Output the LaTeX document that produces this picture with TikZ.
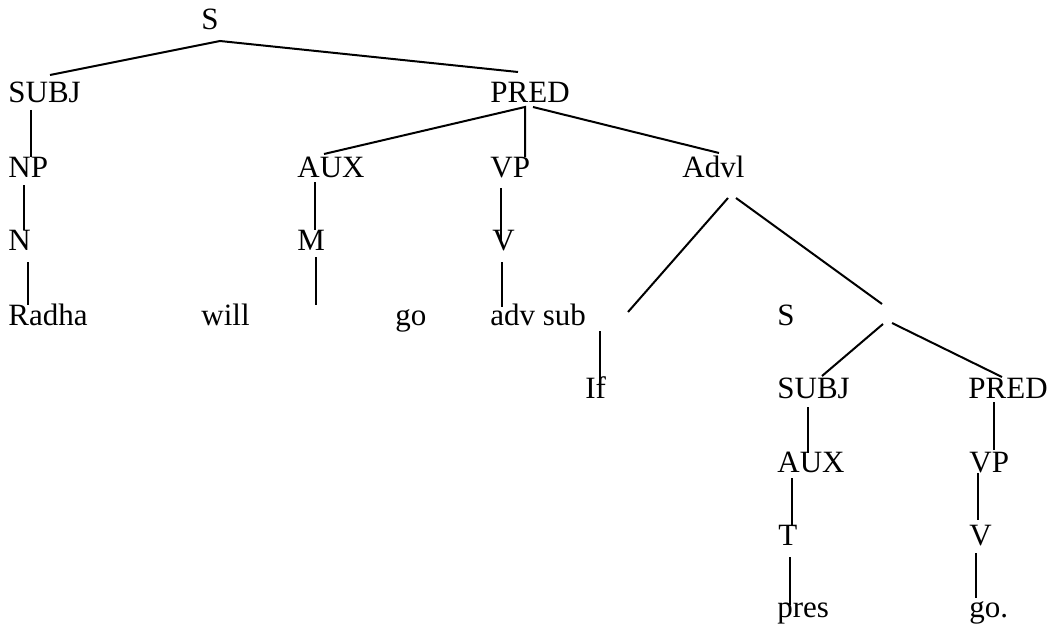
\documentclass[tikz,border=0pt]{standalone}
\usepackage{fontspec}
\setmainfont{Liberation Serif}
\begin{document}
\begin{tikzpicture}[x=0.5pt,y=-0.5pt,
  lbl/.style={inner sep=0pt,anchor=base west,font=\fontsize{15.5}{18}\selectfont},
  br/.style={line width=1pt,black}]
\useasboundingbox (0,0) rectangle (1055,631);
% row 1
\node[lbl] (s) at (201,30) {S};
% row 2
\node[lbl] (subj) at (8,103) {SUBJ};
\node[lbl] (pred) at (490,103) {PRED};
% row 3
\node[lbl] (np) at (8,177) {NP};
\node[lbl] (aux) at (297,177) {AUX};
\node[lbl] (vp) at (490,177) {VP};
\node[lbl] (advl) at (682,177) {Advl};
% row 4
\node[lbl] (n) at (8,250) {N};
\node[lbl] (m) at (297,250) {M};
\node[lbl] (v) at (492,250) {V};
% row 5
\node[lbl] (radha) at (8,325) {Radha};
\node[lbl] (will) at (201,325) {will};
\node[lbl] (go) at (395,325) {go};
\node[lbl] (advsub) at (490,325) {adv sub};
\node[lbl] (s2) at (777,325) {S};
% row 6
\node[lbl] (if) at (585,398) {If};
\node[lbl] (subj2) at (777,398) {SUBJ};
\node[lbl] (pred2) at (968,398) {PRED};
% row 7
\node[lbl] (aux2) at (777,472) {AUX};
\node[lbl] (vp2) at (969,472) {VP};
% row 8
\node[lbl] (t) at (778,545) {T};
\node[lbl] (v2) at (969,545) {V};
% row 9
\node[lbl] (pres) at (777,617) {pres};
\node[lbl] (go2) at (969,617) {go.};
% connector ends
\coordinate (sTop) at (220,41);
\coordinate (subjIn) at (50,75);
\coordinate (predIn) at (518,72);
\coordinate (subjOut) at (31,110);
\coordinate (npIn) at (31,157);
\coordinate (predOut) at (525,107);
\coordinate (predOutR) at (533,107);
\coordinate (auxIn) at (324,154);
\coordinate (vpIn) at (525,157);
\coordinate (advlIn) at (719,153);
\coordinate (npOut) at (24,185);
\coordinate (nIn) at (24,230);
\coordinate (auxOut) at (315,182);
\coordinate (mIn) at (315,230);
\coordinate (vpOut) at (501,188);
\coordinate (vIn) at (501,240);
\coordinate (nOut) at (28,262);
\coordinate (radhaIn) at (28,305);
\coordinate (mOut) at (316,257);
\coordinate (mEnd) at (316,305);
\coordinate (vOut) at (502,262);
\coordinate (advsubIn) at (502,307);
\coordinate (advlOutL) at (728,198);
\coordinate (advlEndL) at (628,312);
\coordinate (advlOutR) at (736,198);
\coordinate (advlEndR) at (882,304);
\coordinate (advsubOut) at (600,331);
\coordinate (ifIn) at (600,387);
\coordinate (jOutL) at (883,324);
\coordinate (subjTwoIn) at (822,376);
\coordinate (jOutR) at (892,323);
\coordinate (predTwoIn) at (1002,377);
\coordinate (subjTwoOut) at (808,407);
\coordinate (auxTwoIn) at (808,453);
\coordinate (predTwoOut) at (994,402);
\coordinate (vpTwoIn) at (994,450);
\coordinate (auxTwoOut) at (792,478);
\coordinate (tIn) at (792,526);
\coordinate (vpTwoOut) at (978,473);
\coordinate (vTwoIn) at (978,520);
\coordinate (tOut) at (790,557);
\coordinate (presIn) at (790,605);
\coordinate (vTwoOut) at (976,553);
\coordinate (goTwoIn) at (976,598);
% connectors
\draw[br] (subjIn) -- (sTop) -- (predIn);
\draw[br] (subjOut) -- (npIn);
\draw[br] (auxIn) -- (predOut) -- (vpIn);
\draw[br] (predOutR) -- (advlIn);
\draw[br] (npOut) -- (nIn);
\draw[br] (auxOut) -- (mIn);
\draw[br] (vpOut) -- (vIn);
\draw[br] (nOut) -- (radhaIn);
\draw[br] (mOut) -- (mEnd);
\draw[br] (vOut) -- (advsubIn);
\draw[br] (advlOutL) -- (advlEndL);
\draw[br] (advlOutR) -- (advlEndR);
\draw[br] (advsubOut) -- (ifIn);
\draw[br] (jOutL) -- (subjTwoIn);
\draw[br] (jOutR) -- (predTwoIn);
\draw[br] (subjTwoOut) -- (auxTwoIn);
\draw[br] (predTwoOut) -- (vpTwoIn);
\draw[br] (auxTwoOut) -- (tIn);
\draw[br] (vpTwoOut) -- (vTwoIn);
\draw[br] (tOut) -- (presIn);
\draw[br] (vTwoOut) -- (goTwoIn);
\end{tikzpicture}
\end{document}
